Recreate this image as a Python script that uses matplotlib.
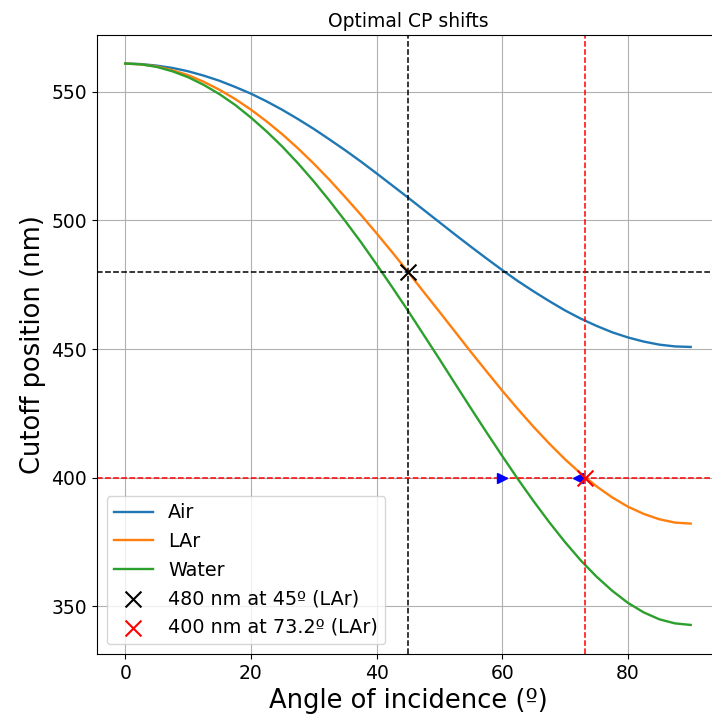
import matplotlib
matplotlib.use("Agg")
import matplotlib.pyplot as plt

# angle of incidence (deg) and cutoff position (nm)
angles = [0, 2.5, 5, 7.5, 10, 12.5, 15, 17.5, 20, 22.5, 25, 27.5, 30, 32.5, 35,
          37.5, 40, 42.5, 45, 47.5, 50, 52.5, 55, 57.5, 60, 62.5, 65, 67.5, 70,
          72.5, 75, 77.5, 80, 82.5, 85, 87.5, 90]
air = [561.0, 560.8, 560.2, 559.3, 558.0, 556.3, 554.3, 551.9, 549.3, 546.3,
       543.0, 539.4, 535.6, 531.5, 527.3, 522.9, 518.3, 513.6, 508.9, 504.1,
       499.3, 494.5, 489.8, 485.2, 480.7, 476.4, 472.4, 468.6, 465.0, 461.8,
       459.0, 456.5, 454.5, 452.9, 451.7, 451.0, 450.8]
lar = [561.0, 560.7, 559.9, 558.4, 556.5, 553.9, 550.8, 547.2, 543.1, 538.5,
       533.5, 528.0, 522.1, 515.8, 509.1, 502.2, 495.0, 487.6, 480.0, 472.2,
       464.5, 456.7, 448.9, 441.3, 433.8, 426.6, 419.7, 413.2, 407.1, 401.6,
       396.6, 392.3, 388.7, 385.9, 383.8, 382.5, 382.1]
water = [561.0, 560.7, 559.7, 558.0, 555.7, 552.7, 549.1, 544.9, 540.0, 534.6,
         528.7, 522.2, 515.2, 507.7, 499.8, 491.6, 482.9, 474.0, 464.9, 455.5,
         446.1, 436.5, 427.0, 417.6, 408.4, 399.4, 390.8, 382.6, 374.9, 367.8,
         361.5, 356.0, 351.3, 347.6, 344.9, 343.3, 342.7]

opt_black = (45, 480)
opt_red = (73.2, 400)
arrow_right = (60, 400)
arrow_left = (72, 400)

fig = plt.figure(figsize=(7.12, 7.16), dpi=100)
ax = fig.add_axes([0.1362, 0.0866, 0.8736, 0.8645])

ax.plot(angles, air, label="Air", lw=1.7)
ax.plot(angles, lar, label="LAr", lw=1.7)
ax.plot(angles, water, label="Water", lw=1.7)

ax.axhline(opt_black[1], color="black", ls="--", lw=1.1)
ax.axvline(opt_black[0], color="black", ls="--", lw=1.1)
ax.axhline(opt_red[1], color="red", ls="--", lw=1.1)
ax.axvline(opt_red[0], color="red", ls="--", lw=1.1)

ax.plot(*arrow_right, marker=">", color="blue", ms=7)
ax.plot(*arrow_left, marker="<", color="blue", ms=7)

ax.scatter(*opt_black, marker="x", color="black", s=130, zorder=5,
           label="480 nm at 45º (LAr)")
ax.scatter(*opt_red, marker="x", color="red", s=130, zorder=5,
           label="400 nm at 73.2º (LAr)")

ax.set_xlim(-4.5, 94.5)
ax.set_ylim(331.4, 572.1)
ax.set_xticks([0, 20, 40, 60, 80])
ax.set_yticks([350, 400, 450, 500, 550])
ax.tick_params(labelsize=13.5)
ax.grid(True)
ax.set_title("Optimal CP shifts", fontsize=13.5)
ax.set_xlabel("Angle of incidence (º)", fontsize=18.5)
ax.set_ylabel("Cutoff position (nm)", fontsize=18.5)
ax.legend(loc="lower left", fontsize=13.8)

fig.savefig("out.png", dpi=100)
